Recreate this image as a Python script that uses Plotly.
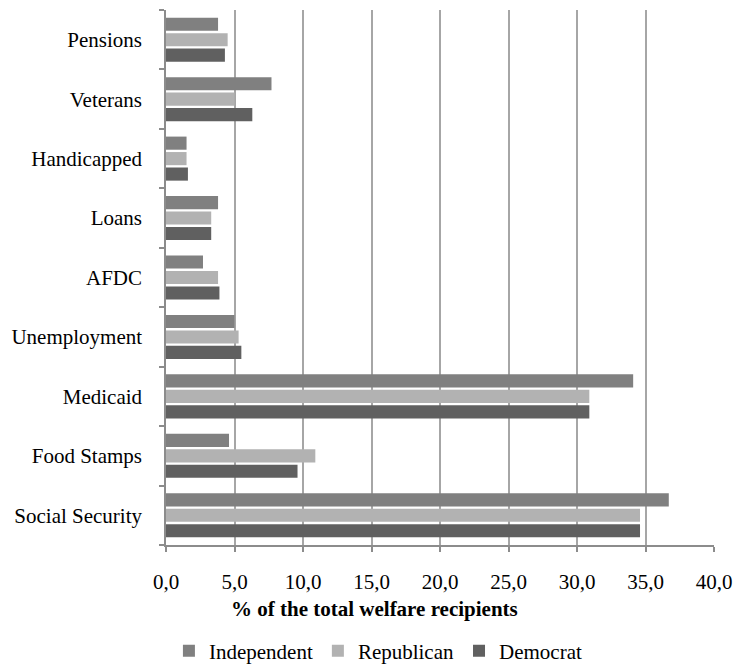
import plotly.graph_objects as go

# Welfare programmes, listed bottom-to-top as they appear on the y axis
programs = ["Social Security", "Food Stamps", "Medicaid", "Unemployment",
            "AFDC", "Loans", "Handicapped", "Veterans", "Pensions"]

# Share of total welfare recipients (%) by party identification
independent = [36.7, 4.6, 34.1, 5.0, 2.7, 3.8, 1.5, 7.7, 3.8]
republican = [34.6, 10.9, 30.9, 5.3, 3.8, 3.3, 1.5, 5.0, 4.5]
democrat = [34.6, 9.6, 30.9, 5.5, 3.9, 3.3, 1.6, 6.3, 4.3]

x_ticks = [0, 5, 10, 15, 20, 25, 30, 35, 40]
x_tick_text = ["0,0", "5,0", "10,0", "15,0", "20,0", "25,0", "30,0", "35,0", "40,0"]

FONT = "Liberation Serif, Times New Roman, serif"
FS = 21

fig = go.Figure()
# Democrat drawn first so it sits lowest inside each group
series = [
    ("Democrat", democrat, "#606060", 3),
    ("Republican", republican, "#b2b2b2", 2),
    ("Independent", independent, "#808080", 1),
]
for name, vals, color, rank in series:
    fig.add_trace(go.Bar(
        y=programs, x=vals, name=name, orientation="h",
        marker=dict(color=color, line=dict(width=0)),
        legendrank=rank,
    ))

W, H = 742, 664
ml, mr, mt, mb = 166, 23, 10, 119
pw = W - ml - mr

fig.update_layout(
    width=W, height=H,
    margin=dict(l=ml, r=mr, t=mt, b=mb),
    barmode="group", bargap=0.22, bargroupgap=0.15,
    plot_bgcolor="white", paper_bgcolor="white",
    font=dict(family=FONT, size=FS, color="black"),
    showlegend=True,
    legend=dict(
        orientation="h", xref="container", yref="container",
        x=0.51, xanchor="center", y=(H - 651) / H, yanchor="middle",
        font=dict(family=FONT, size=FS), itemwidth=30,
        tracegroupgap=0,
    ),
    xaxis=dict(
        range=[0, 40], tickvals=x_ticks, ticktext=x_tick_text,
        showgrid=True, gridcolor="#a6a6a6", gridwidth=1.5,
        showline=True, linecolor="#8c8c8c", linewidth=1.5,
        ticks="outside", ticklen=5, tickcolor="#8c8c8c", tickwidth=1.5,
        ticklabelstandoff=12, zeroline=False,
        tickfont=dict(family=FONT, size=FS),
    ),
    yaxis=dict(
        showgrid=False, showline=True, linecolor="#8c8c8c", linewidth=1.5,
        ticks="outside", ticklen=5, tickcolor="#8c8c8c", tickwidth=1.5,
        tickson="boundaries", ticklabelstandoff=18,
        tickfont=dict(family=FONT, size=FS),
    ),
    annotations=[dict(
        text="<b>% of the total welfare recipients</b>",
        xref="paper", yref="paper",
        x=(376 - ml) / pw, y=-(609 - (H - mb)) / (H - mt - mb),
        xanchor="center", yanchor="middle", showarrow=False,
        font=dict(family=FONT, size=FS),
    )],
)

fig.write_html("out.html")
